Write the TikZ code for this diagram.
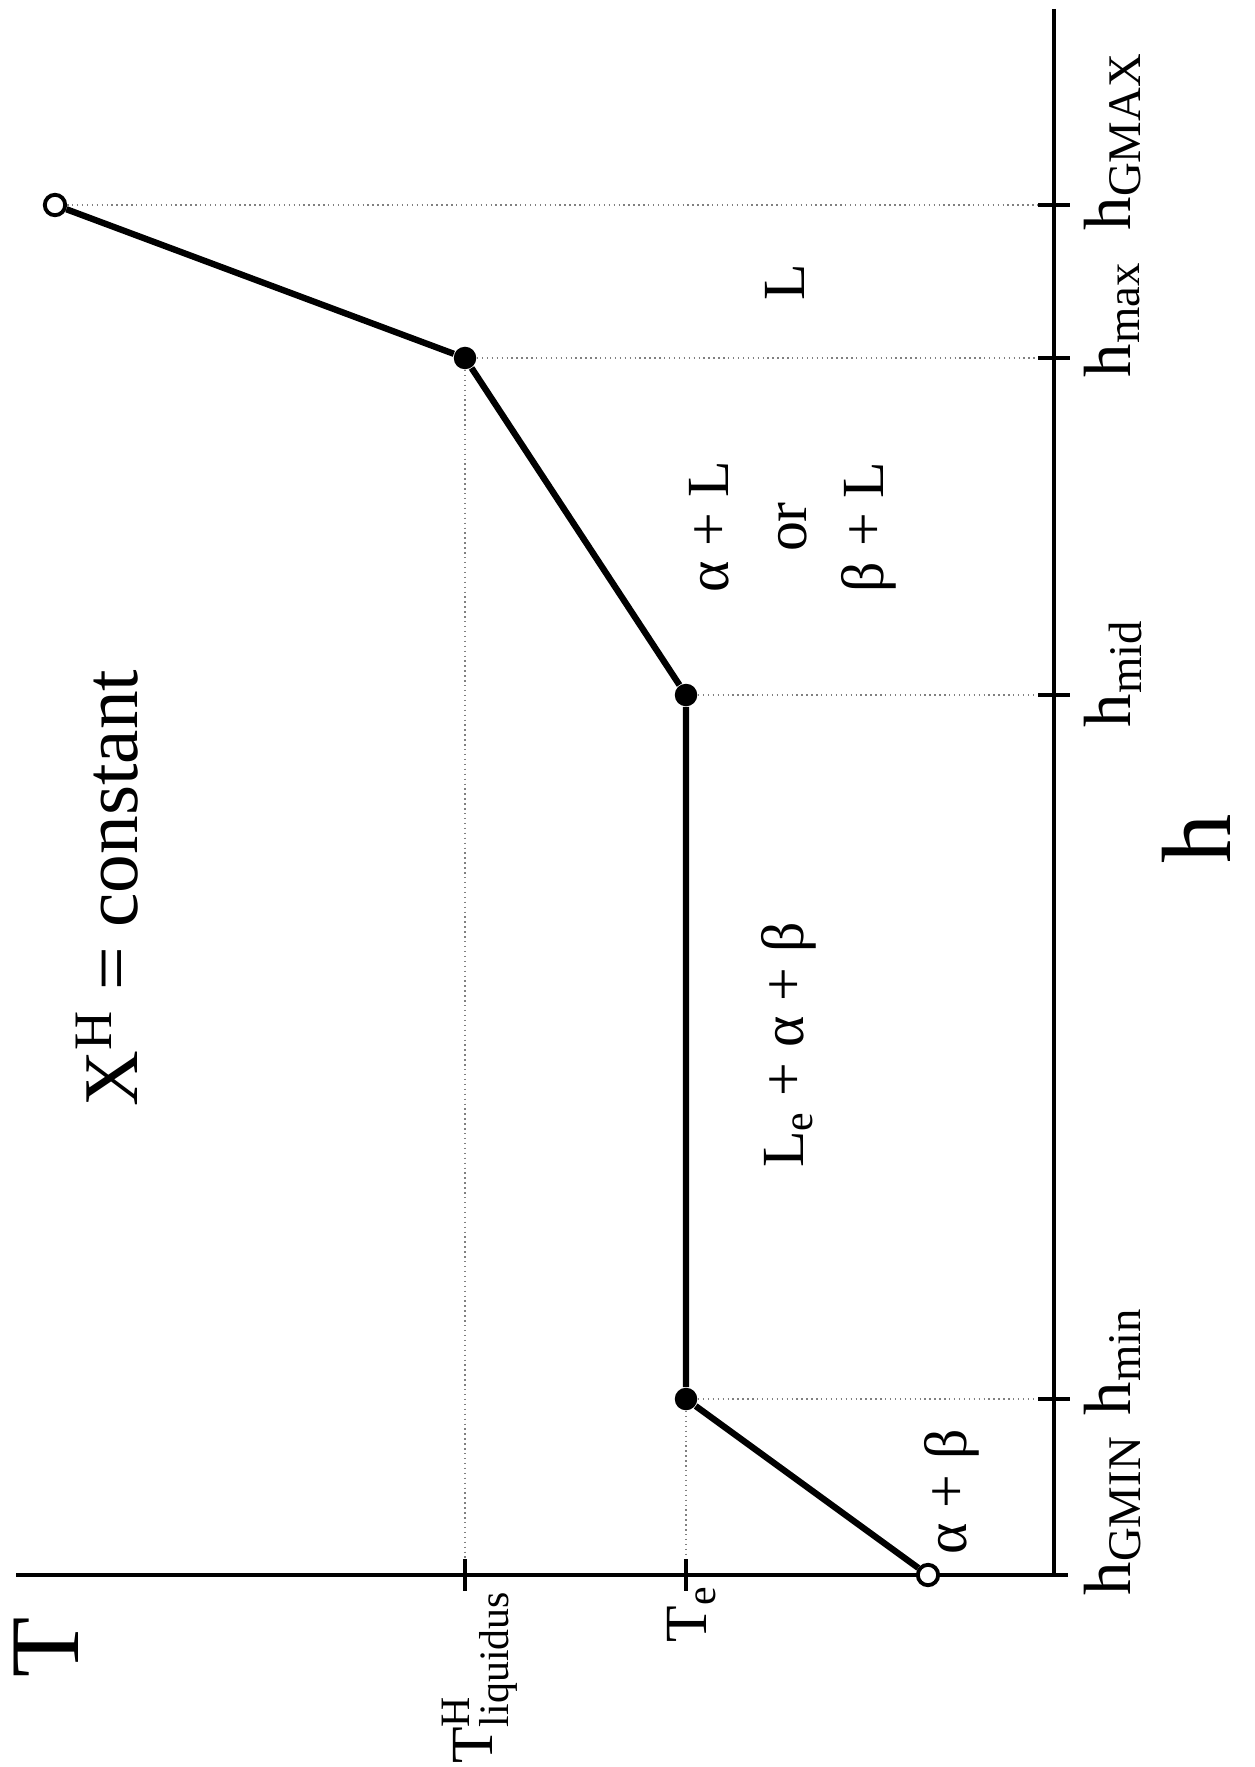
\documentclass[tikz,border=0pt]{standalone}
\usepackage{fontspec}
\setmainfont{Liberation Serif}
\usepackage{amsmath}
\begin{document}
\begin{tikzpicture}[x=0.01cm,y=-0.01cm,
  axisline/.style={line width=1pt},
  curveline/.style={line width=1.8pt},
  guide/.style={gray, line width=0.4pt, densely dotted},
  tickmark/.style={line width=1.3pt},
  fdot/.style={circle, fill=black, inner sep=0pt, minimum size=6.4pt},
  odot/.style={circle, draw=black, fill=white, line width=1.1pt, inner sep=0pt, minimum size=5.8pt},
  lbl/.style={rotate=90, inner sep=0pt},
  hlbl/.style={rotate=90, inner sep=0pt, anchor=base west, font=\fontsize{19}{23}\selectfont}
]
\useasboundingbox (0,0) rectangle (1255,1767);
\fill[white] (0,0) rectangle (1255,1767);

% axes
\coordinate (corner) at (1054,1575);
\coordinate (htop) at (1054,9);
\coordinate (tleft) at (16,1575);
\coordinate (hend) at (1068,1575);
\draw[axisline] (htop) -- (corner) -- (tleft);
\draw[axisline] (corner) -- (hend);

% points
\node[odot] (pG) at (55,205) {};
\node[fdot] (pmax) at (465,358) {};
\node[fdot] (pmid) at (686,695) {};
\node[fdot] (pmin) at (686,1399) {};
\node[odot] (pGM) at (928,1575) {};

% guides
\draw[guide] (pG) -- (pG -| corner);
\draw[guide] (pmax) -- (pmax -| corner);
\draw[guide] (pmid) -- (pmid -| corner);
\draw[guide] (pmin) -- (pmin -| corner);
\draw[guide] (pmax) -- (pmax |- corner);
\draw[guide] (pmin) -- (pmin |- corner);

% ticks on h axis
\foreach \yy in {205,358,695,1399}
  \draw[tickmark] (1038,\yy) -- (1070,\yy);
% ticks on T axis
\foreach \xx in {465,686}
  \draw[tickmark] (\xx,1559) -- (\xx,1591);

% curve
\draw[curveline, line join=round] (pGM) -- (pmin) -- (pmid) -- (pmax) -- (pG);

% labels
\node[lbl, font=\fontsize{22}{27}\selectfont] (title) at (107,888) {X\textsuperscript{H} = constant};
\node[lbl, font=\fontsize{28}{32}\selectfont] (Tlab) at (46,1647) {T};
\node[lbl, font=\fontsize{28}{32}\selectfont] (hlab) at (1196,839) {h};

\node[lbl, font=\fontsize{17}{21}\selectfont] (tliq) at (480,1677) {$\text{T}^{\text{H}}_{\text{liquidus}}$};
\node[lbl, font=\fontsize{17}{21}\selectfont] (te) at (692,1614) {$\text{T}_{\text{e}}$};

\node[hlbl] (hGMAX) at (1130,231) {h$_{\text{GMAX}}$};
\node[hlbl] (hmax) at (1130,378) {h$_{\text{max}}$};
\node[hlbl] (hmid) at (1130,728) {h$_{\text{mid}}$};
\node[hlbl] (hmin) at (1130,1416) {h$_{\text{min}}$};
\node[hlbl] (hGMIN) at (1130,1596) {h$_{\text{GMIN}}$};

\node[lbl, font=\fontsize{17}{22}\selectfont] (rL) at (785,282) {L};
\node[lbl, font=\fontsize{17}{22}\selectfont, align=center] (rAL) at (793,527) {α + L\\or\\β + L};
\node[lbl, font=\fontsize{17}{22}\selectfont] (rLe) at (789,1045) {L$_{\text{e}}$ + α + β};
\node[lbl, font=\fontsize{17}{22}\selectfont] (rAB) at (952,1492) {α + β};
\end{tikzpicture}
\end{document}
